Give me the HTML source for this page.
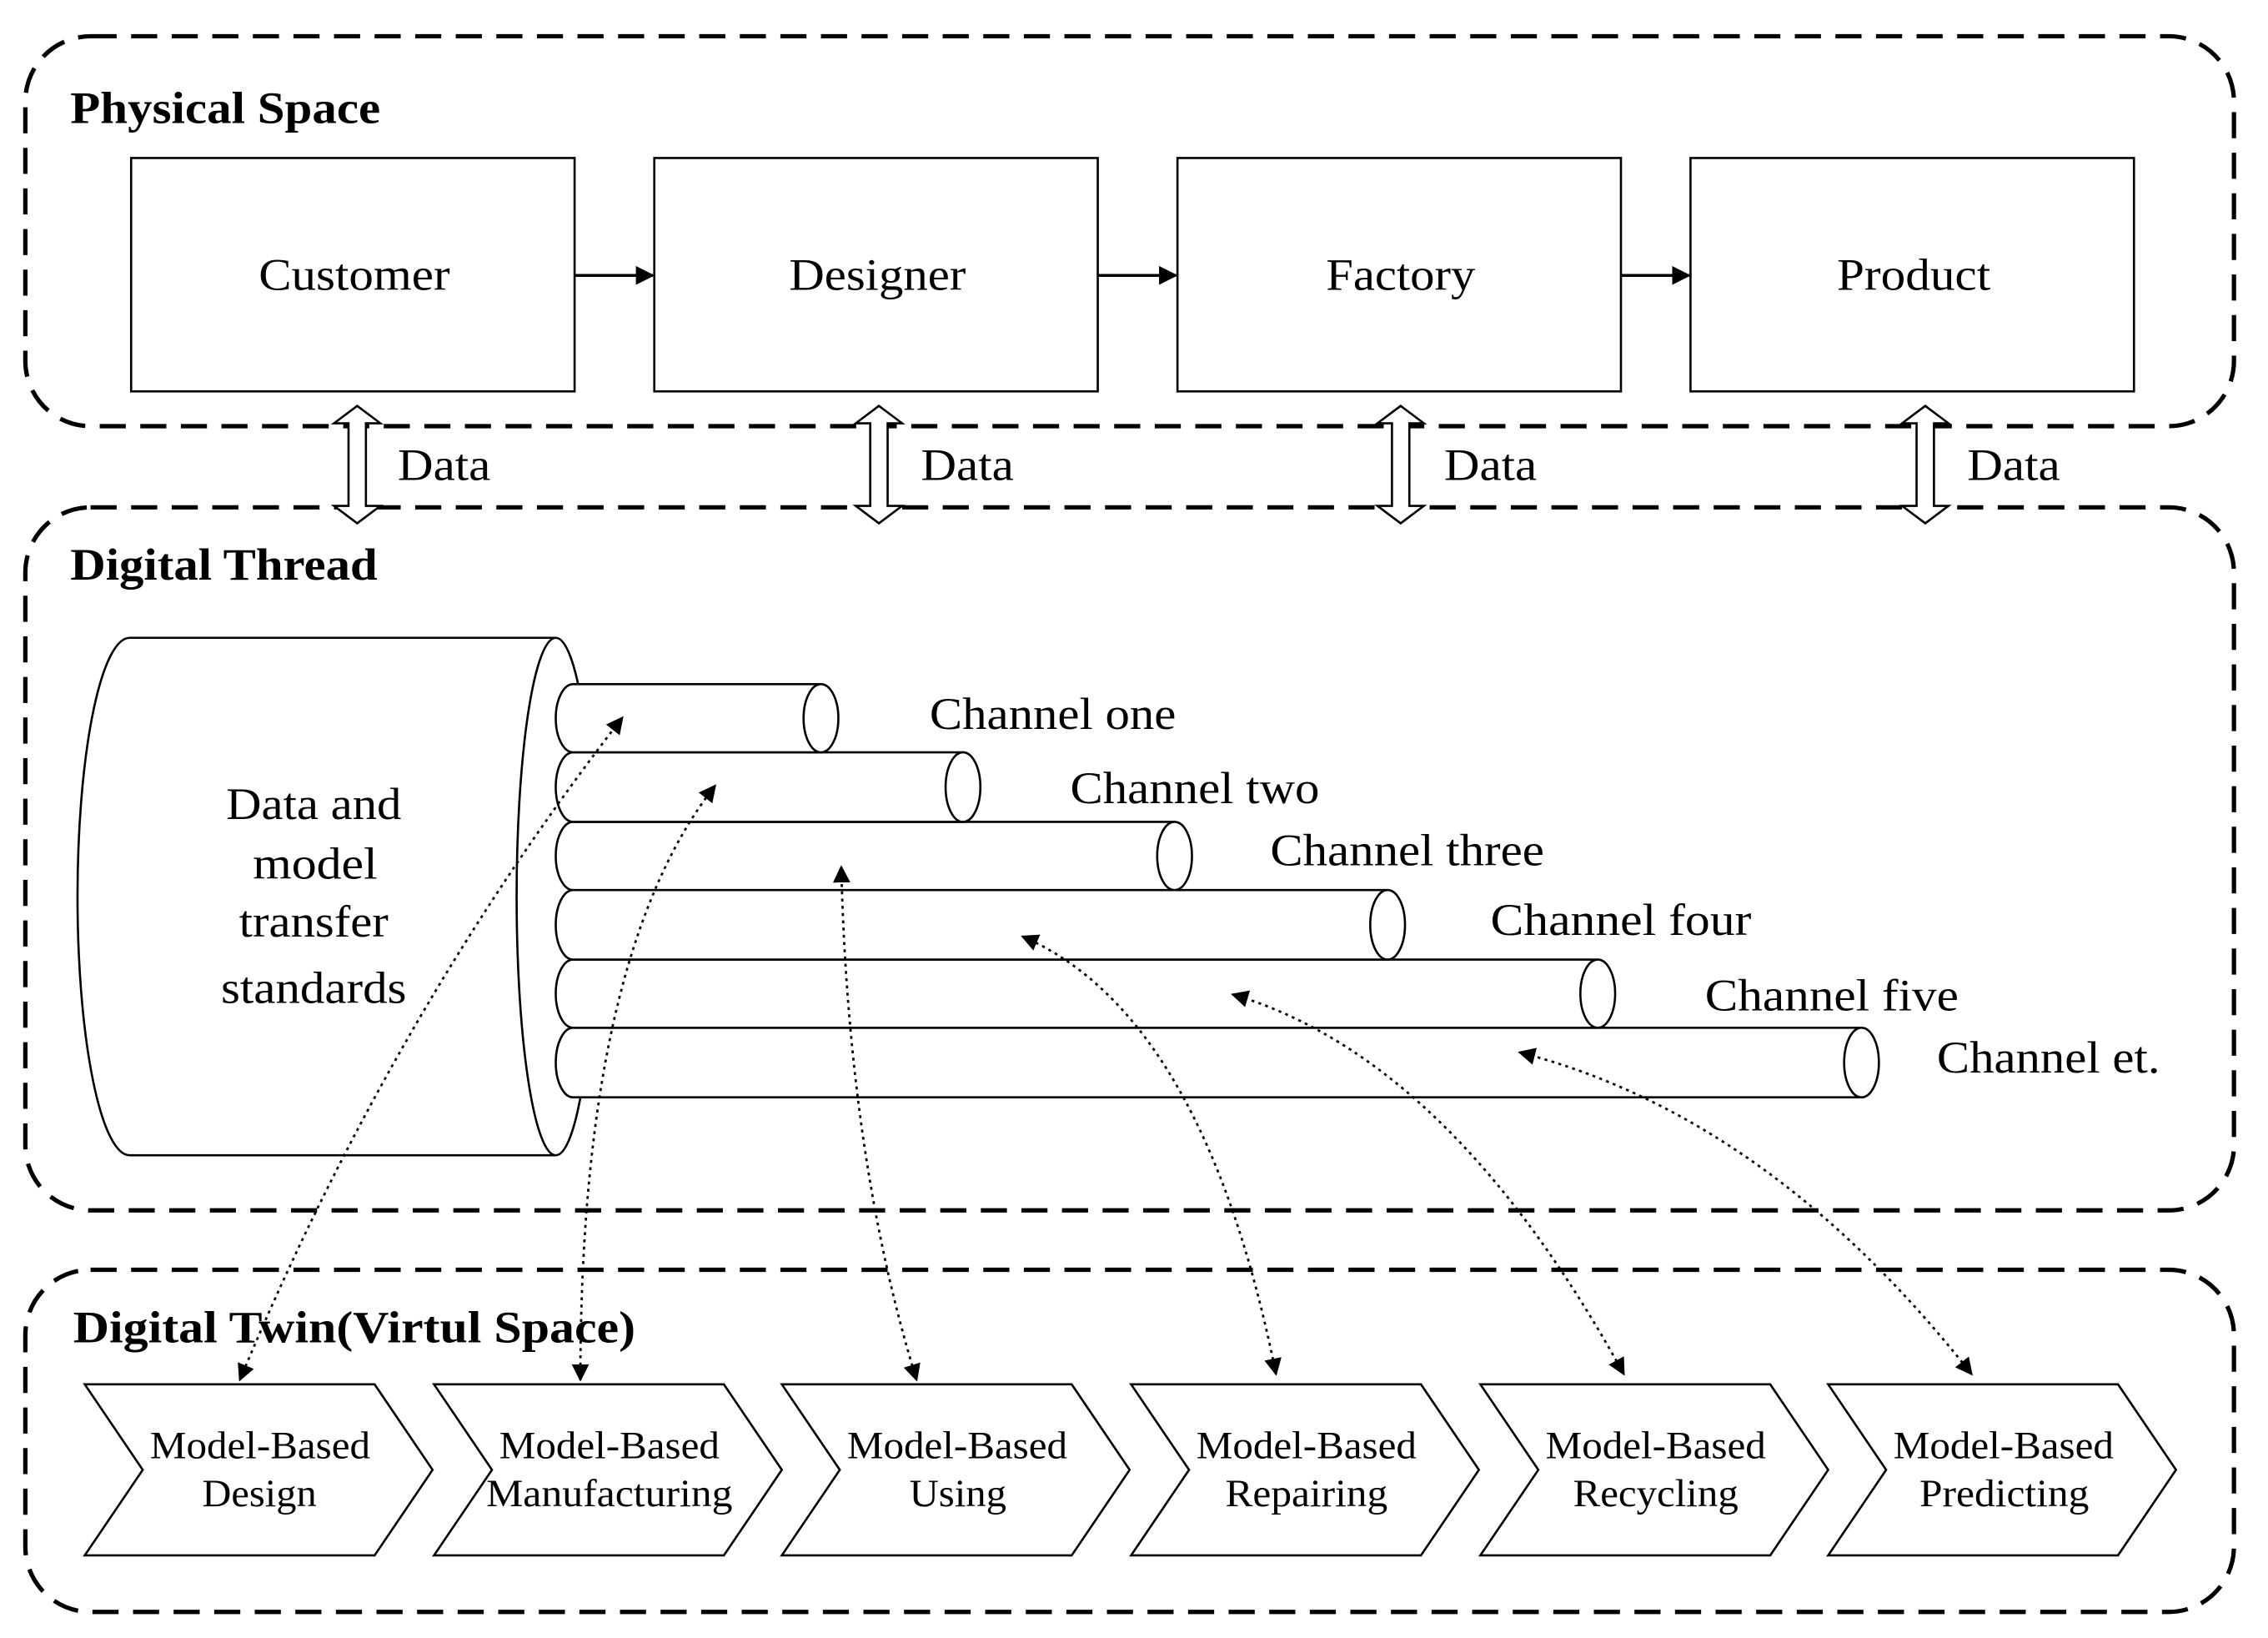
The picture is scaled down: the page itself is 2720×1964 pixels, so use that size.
<!DOCTYPE html>
<html><head><meta charset="utf-8"><style>html,body{margin:0;padding:0;background:#fff}svg{display:block}</style></head><body>
<svg width="2720" height="1964" viewBox="0 0 1564 1130" xmlns="http://www.w3.org/2000/svg" font-family="'Liberation Serif', serif">
<defs>
<marker id="a" viewBox="0 0 10 10" refX="9" refY="5" markerWidth="12" markerHeight="12" markerUnits="userSpaceOnUse" orient="auto-start-reverse"><path d="M0,0 L10,5 L0,10 z" fill="#000"/></marker>
<marker id="s" viewBox="0 0 10 10" refX="9" refY="5" markerWidth="13" markerHeight="13" markerUnits="userSpaceOnUse" orient="auto-start-reverse"><path d="M0,0 L10,5 L0,10 z" fill="#000"/></marker>
</defs>
<rect width="1564" height="1130" fill="#fff"/>
<g fill="none" stroke="#000" stroke-width="3" stroke-dasharray="18 10">
<rect x="17" y="25" width="1524" height="269" rx="45"/>
<rect x="17" y="350" width="1524" height="485" rx="45"/>
<rect x="17" y="876" width="1524" height="236" rx="45"/>
</g>
<g font-weight="bold" font-size="31" lengthAdjust="spacingAndGlyphs">
<text x="48" y="85" textLength="214" lengthAdjust="spacingAndGlyphs">Physical Space</text>
<text x="48" y="400" textLength="212" lengthAdjust="spacingAndGlyphs">Digital Thread</text>
<text x="50" y="926" textLength="388" lengthAdjust="spacingAndGlyphs">Digital Twin(Virtul Space)</text>
</g>
<g fill="#fff" stroke="#000" stroke-width="1.5">
<rect x="90" y="109" width="306" height="161"/>
<rect x="451" y="109" width="306" height="161"/>
<rect x="812" y="109" width="306" height="161"/>
<rect x="1166" y="109" width="306" height="161"/>
</g>
<g font-size="31" text-anchor="middle">
<text x="244" y="200" textLength="132" lengthAdjust="spacingAndGlyphs">Customer</text>
<text x="605" y="200" textLength="122" lengthAdjust="spacingAndGlyphs">Designer</text>
<text x="966" y="200" textLength="103" lengthAdjust="spacingAndGlyphs">Factory</text>
<text x="1320" y="200" textLength="106" lengthAdjust="spacingAndGlyphs">Product</text>
</g>
<g stroke="#000" stroke-width="2" marker-end="url(#s)">
<line x1="396" y1="190" x2="450" y2="190"/>
<line x1="757" y1="190" x2="811" y2="190"/>
<line x1="1118" y1="190" x2="1165" y2="190"/>
</g>
<g fill="#fff" stroke="#000" stroke-width="1.5">
<path id="da" d="M0,280 L16,292 L6,292 L6,349 L16,349 L0,361 L-16,349 L-6,349 L-6,292 L-16,292 z" transform="translate(246,0)"/>
<use href="#da" transform="translate(360,0)"/>
<use href="#da" transform="translate(720,0)"/>
<use href="#da" transform="translate(1082,0)"/>
</g>
<g font-size="31">
<text x="274" y="331" textLength="64" lengthAdjust="spacingAndGlyphs">Data</text><text x="635" y="331" textLength="64" lengthAdjust="spacingAndGlyphs">Data</text><text x="996" y="331" textLength="64" lengthAdjust="spacingAndGlyphs">Data</text><text x="1357" y="331" textLength="64" lengthAdjust="spacingAndGlyphs">Data</text>
</g>
<g fill="#fff" stroke="#000" stroke-width="1.5">
<path d="M383,440 L89,440 A36,178.5 0 0 0 89,797 L383,797"/>
<ellipse cx="383" cy="618.5" rx="27" ry="178.5"/>
</g>
<g fill="#fff" stroke="#000" stroke-width="1.5">
<g><path d="M395,709 L1284,709 L1284,757 L395,757 A12,24 0 0 1 395,709 z"/><ellipse cx="1284" cy="733" rx="12" ry="24"/></g>
<g><path d="M395,662 L1102,662 L1102,709 L395,709 A12,23.5 0 0 1 395,662 z"/><ellipse cx="1102" cy="685.5" rx="12" ry="23.5"/></g>
<g><path d="M395,614 L957,614 L957,662 L395,662 A12,24 0 0 1 395,614 z"/><ellipse cx="957" cy="638" rx="12" ry="24"/></g>
<g><path d="M395,567 L810,567 L810,614 L395,614 A12,23.5 0 0 1 395,567 z"/><ellipse cx="810" cy="590.5" rx="12" ry="23.5"/></g>
<g><path d="M395,519 L664,519 L664,567 L395,567 A12,24 0 0 1 395,519 z"/><ellipse cx="664" cy="543" rx="12" ry="24"/></g>
<g><path d="M395,472 L566,472 L566,519 L395,519 A12,23.5 0 0 1 395,472 z"/><ellipse cx="566" cy="495.5" rx="12" ry="23.5"/></g>
</g>
<g font-size="31">
<text x="641" y="503" textLength="170" lengthAdjust="spacingAndGlyphs">Channel one</text>
<text x="738" y="554" textLength="172" lengthAdjust="spacingAndGlyphs">Channel two</text>
<text x="876" y="597" textLength="189" lengthAdjust="spacingAndGlyphs">Channel three</text>
<text x="1028" y="645" textLength="180" lengthAdjust="spacingAndGlyphs">Channel four</text>
<text x="1176" y="697" textLength="175" lengthAdjust="spacingAndGlyphs">Channel five</text>
<text x="1336" y="740" textLength="154" lengthAdjust="spacingAndGlyphs">Channel et.</text>
</g>
<g font-size="31" text-anchor="middle">
<text x="216" y="565" textLength="121" lengthAdjust="spacingAndGlyphs">Data and</text>
<text x="217" y="606" textLength="86" lengthAdjust="spacingAndGlyphs">model</text>
<text x="216" y="646" textLength="103" lengthAdjust="spacingAndGlyphs">transfer</text>
<text x="216" y="692" textLength="128" lengthAdjust="spacingAndGlyphs">standards</text>
</g>
<g fill="#fff" stroke="#000" stroke-width="1.5">
<path id="cv" d="M58,955 L258,955 L298,1014 L258,1073 L58,1073 L98,1014 z"/>
<use href="#cv" transform="translate(241,0)"/>
<use href="#cv" transform="translate(481,0)"/>
<use href="#cv" transform="translate(722,0)"/>
<use href="#cv" transform="translate(963,0)"/>
<use href="#cv" transform="translate(1203,0)"/>
</g>
<g font-size="27" text-anchor="middle">
<text x="179" y="1006" textLength="152" lengthAdjust="spacingAndGlyphs">Model-Based</text><text x="178.5" y="1039" textLength="79" lengthAdjust="spacingAndGlyphs">Design</text>
<text x="420" y="1006" textLength="152" lengthAdjust="spacingAndGlyphs">Model-Based</text><text x="420" y="1039" textLength="170" lengthAdjust="spacingAndGlyphs">Manufacturing</text>
<text x="660" y="1006" textLength="152" lengthAdjust="spacingAndGlyphs">Model-Based</text><text x="660.5" y="1039" textLength="67" lengthAdjust="spacingAndGlyphs">Using</text>
<text x="901" y="1006" textLength="152" lengthAdjust="spacingAndGlyphs">Model-Based</text><text x="901" y="1039" textLength="112" lengthAdjust="spacingAndGlyphs">Repairing</text>
<text x="1142" y="1006" textLength="152" lengthAdjust="spacingAndGlyphs">Model-Based</text><text x="1142" y="1039" textLength="114" lengthAdjust="spacingAndGlyphs">Recycling</text>
<text x="1382" y="1006" textLength="152" lengthAdjust="spacingAndGlyphs">Model-Based</text><text x="1382.5" y="1039" textLength="117" lengthAdjust="spacingAndGlyphs">Predicting</text>
</g>
<g fill="none" stroke="#000" stroke-width="1.6" stroke-dasharray="2 3" marker-start="url(#a)" marker-end="url(#a)">
<path d="M165,952 Q270,700 429,495"/>
<path d="M400,952 Q400,660 493,542"/>
<path d="M632,952 Q585,800 580,598"/>
<path d="M880,948 Q830,700 705,646"/>
<path d="M1120,948 Q1000,730 850,686"/>
<path d="M1360,948 Q1220,770 1048,726"/>
</g>
</svg>
</body></html>
